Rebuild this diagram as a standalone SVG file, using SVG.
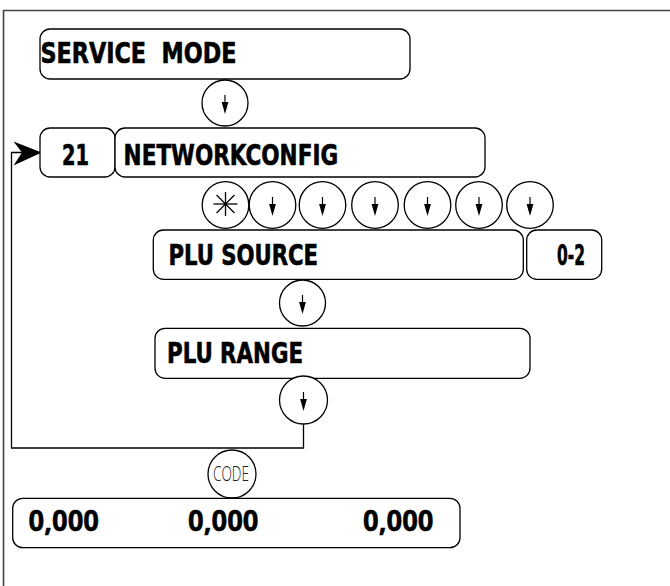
<svg xmlns="http://www.w3.org/2000/svg" xmlns:xlink="http://www.w3.org/1999/xlink" width="670" height="586" viewBox="0 0 670 586">
<style>
.box{fill:#fff;stroke:#000;stroke-width:1.3}
.key{fill:#fff;stroke:#000;stroke-width:1.3}
.lbl{font-family:"DejaVu Sans Condensed","DejaVu Sans",sans-serif;font-weight:bold;font-size:29px;fill:#000;stroke:#000;stroke-width:0.6}
.num{font-family:"Open Sans","DejaVu Sans",sans-serif;font-weight:bold;font-size:29px;fill:#000;stroke:#000;stroke-width:0.5}
.code{font-family:"Open Sans","DejaVu Sans",sans-serif;font-weight:300;font-size:19.5px;fill:#222}
.conn{fill:none;stroke:#000;stroke-width:1.3}
.frame{fill:none;stroke:#444;stroke-width:1.6}
</style>
<defs>
<g id="down">
<line x1="0" y1="-8" x2="0" y2="2" stroke="#000" stroke-width="1.2"/>
<path d="M-3.4 -1 L3.4 -1 L0 11 Z" fill="#000"/>
</g>
</defs>
<path class="frame" d="M3.5 586 V10.5 H670"/>
<g id="connectors">
<path class="conn" d="M303.5 424 V448 H11.5 V152.5 H24"/>
<path d="M41.7 152.5 L13.5 141.5 L22 152.5 L13.5 165.5 Z" fill="#000"/>
</g>
<g id="service-mode">
<rect class="box" x="40" y="29" width="370" height="50" rx="10"/>
<text class="lbl" x="40.5" y="63" textLength="196" lengthAdjust="spacingAndGlyphs" xml:space="preserve">SERVICE  MODE</text>
</g>
<g id="key-down-1">
<circle class="key" cx="225" cy="103" r="23"/>
<use xlink:href="#down" x="225" y="103"/>
</g>
<g id="code-21">
<rect class="box" x="40" y="128" width="75" height="49" rx="10"/>
<text class="lbl" x="62" y="165" font-size="30" textLength="27" lengthAdjust="spacingAndGlyphs">21</text>
</g>
<g id="networkconfig">
<rect class="box" x="115" y="128" width="370" height="49" rx="10"/>
<text class="lbl" x="123.6" y="165" font-size="30" textLength="214.5" lengthAdjust="spacingAndGlyphs">NETWORKCONFIG</text>
</g>
<g id="key-star">
<circle class="key" cx="225.5" cy="205" r="23.3"/>
<g stroke="#000" stroke-width="1.3">
<line x1="213.5" y1="204" x2="237.5" y2="204"/>
<line x1="225.5" y1="192" x2="225.5" y2="216"/>
<line x1="216.5" y1="195" x2="234.5" y2="213"/>
<line x1="234.5" y1="195" x2="216.5" y2="213"/>
</g>
</g>
<g id="key-down-2"><circle class="key" cx="272.5" cy="205" r="23.3"/><use xlink:href="#down" x="272.5" y="205"/></g>
<g id="key-down-3"><circle class="key" cx="322.5" cy="205" r="23.3"/><use xlink:href="#down" x="322.5" y="205"/></g>
<g id="key-down-4"><circle class="key" cx="375" cy="205" r="23.3"/><use xlink:href="#down" x="375" y="205"/></g>
<g id="key-down-5"><circle class="key" cx="427.5" cy="205" r="23.3"/><use xlink:href="#down" x="427.5" y="205"/></g>
<g id="key-down-6"><circle class="key" cx="479" cy="205" r="23.3"/><use xlink:href="#down" x="479" y="205"/></g>
<g id="key-down-7"><circle class="key" cx="530" cy="205" r="23.3"/><use xlink:href="#down" x="530" y="205"/></g>
<g id="plu-source">
<rect class="box" x="153.3" y="230" width="370" height="49.3" rx="10"/>
<text class="lbl" x="168.6" y="265" textLength="149.5" lengthAdjust="spacingAndGlyphs">PLU SOURCE</text>
</g>
<g id="range-0-2">
<rect class="box" x="526.7" y="230" width="75" height="49.3" rx="10"/>
<text class="lbl" x="557" y="265" textLength="28" lengthAdjust="spacingAndGlyphs">0-2</text>
</g>
<g id="key-down-8">
<circle class="key" cx="302.5" cy="303" r="23"/>
<use xlink:href="#down" x="302.5" y="303"/>
</g>
<g id="plu-range">
<rect class="box" x="155" y="328.3" width="375" height="50" rx="10"/>
<text class="lbl" x="167" y="363.3" textLength="136" lengthAdjust="spacingAndGlyphs">PLU RANGE</text>
</g>
<g id="key-down-9">
<circle class="key" cx="303.5" cy="400" r="24"/>
<use xlink:href="#down" x="303.5" y="400"/>
</g>
<g id="key-code">
<circle class="key" cx="232" cy="474" r="24"/>
<text class="code" x="213" y="481" textLength="36" lengthAdjust="spacingAndGlyphs">CODE</text>
</g>
<g id="display">
<rect class="box" x="12.7" y="498.3" width="447.3" height="49.4" rx="10"/>
<text class="num" x="28.5" y="531" textLength="70.5" lengthAdjust="spacingAndGlyphs">0,000</text>
<text class="num" x="188" y="531" textLength="70.5" lengthAdjust="spacingAndGlyphs">0,000</text>
<text class="num" x="363" y="531" textLength="70.5" lengthAdjust="spacingAndGlyphs">0,000</text>
</g>
</svg>
